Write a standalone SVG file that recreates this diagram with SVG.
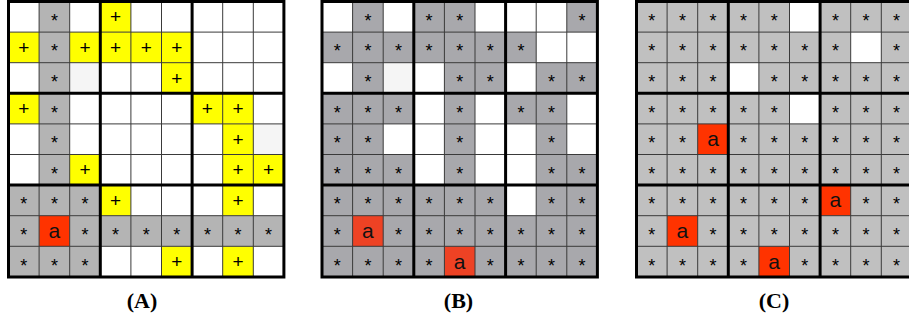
<svg xmlns="http://www.w3.org/2000/svg" width="909" height="320" viewBox="0 0 909 320">
<style>
.s{font-family:"Liberation Sans",Arial,sans-serif;font-size:18px;text-anchor:middle;fill:#000}
.p{font-family:"Liberation Sans",Arial,sans-serif;font-size:19px;text-anchor:middle;fill:#000}
.a{font-family:"Liberation Sans",Arial,sans-serif;font-size:21px;text-anchor:middle;fill:#111}
.lab{font-family:"Liberation Serif","Times New Roman",serif;font-size:22px;font-weight:bold;text-anchor:middle;fill:#000}
.thin{fill:none;stroke:#3a3a3a;stroke-width:1}
.thick{fill:none;stroke:#000;stroke-width:3}
.y{fill:#ffff00}
.r{fill:#ff3300}
.rb{fill:#ee4224}
.w{fill:#fff}
.ow{fill:#f5f5f5}
</style>
<defs>
<path id="thinlines" class="thin" d="M30.6 0V275.4M61.2 0V275.4M122.4 0V275.4M153 0V275.4M214.2 0V275.4M244.8 0V275.4M0 30.6H275.4M0 61.2H275.4M0 122.4H275.4M0 153H275.4M0 214.2H275.4M0 244.8H275.4"/>
<path id="thicklines" class="thick" d="M0 0H275.4V275.4H0ZM91.8 0V275.4M183.6 0V275.4M0 91.8H275.4M0 183.6H275.4"/>
</defs>

<g id="gridA" transform="translate(8.5,1.5)">
<rect x="0" y="0" width="275.4" height="275.4" fill="#fff"/>
<g fill="#b4b4b4">
<rect x="30.6" y="0" width="30.6" height="183.6"/>
<rect x="0" y="183.6" width="91.8" height="30.6"/>
<rect x="0" y="214.2" width="275.4" height="30.6"/>
<rect x="0" y="244.8" width="91.8" height="30.6"/>
</g>
<rect class="ow" x="61.2" y="61.2" width="30.6" height="30.6"/>
<rect class="ow" x="244.8" y="122.4" width="30.6" height="30.6"/>
<g class="y">
<rect x="91.8" y="0" width="30.6" height="30.6"/>
<rect x="0" y="30.6" width="30.6" height="30.6"/>
<rect x="61.2" y="30.6" width="91.8" height="30.6"/>
<rect x="153" y="30.6" width="30.6" height="61.2"/>
<rect x="0" y="91.8" width="30.6" height="30.6"/>
<rect x="183.6" y="91.8" width="61.2" height="30.6"/>
<rect x="214.2" y="122.4" width="30.6" height="30.6"/>
<rect x="61.2" y="153" width="30.6" height="30.6"/>
<rect x="214.2" y="153" width="61.2" height="30.6"/>
<rect x="91.8" y="183.6" width="30.6" height="30.6"/>
<rect x="214.2" y="183.6" width="30.6" height="30.6"/>
<rect x="153" y="244.8" width="30.6" height="30.6"/>
<rect x="214.2" y="244.8" width="30.6" height="30.6"/>
</g>
<rect class="r" x="30.6" y="214.2" width="30.6" height="30.6"/>
<use href="#thinlines"/>
<use href="#thicklines"/>
<text class="s" x="45.9" y="25.3">*</text>
<text class="s" x="45.9" y="55.9">*</text>
<text class="s" x="45.9" y="86.5">*</text>
<text class="s" x="45.9" y="117.1">*</text>
<text class="s" x="45.9" y="147.7">*</text>
<text class="s" x="45.9" y="178.3">*</text>
<text class="s" x="15.3" y="208.9">*</text>
<text class="s" x="45.9" y="208.9">*</text>
<text class="s" x="76.5" y="208.9">*</text>
<text class="s" x="15.3" y="239.5">*</text>
<text class="s" x="76.5" y="239.5">*</text>
<text class="s" x="107.1" y="239.5">*</text>
<text class="s" x="137.7" y="239.5">*</text>
<text class="s" x="168.3" y="239.5">*</text>
<text class="s" x="198.9" y="239.5">*</text>
<text class="s" x="229.5" y="239.5">*</text>
<text class="s" x="260.1" y="239.5">*</text>
<text class="s" x="15.3" y="270.1">*</text>
<text class="s" x="45.9" y="270.1">*</text>
<text class="s" x="76.5" y="270.1">*</text>
<text class="p" x="107.1" y="21.9">+</text>
<text class="p" x="15.3" y="52.5">+</text>
<text class="p" x="76.5" y="52.5">+</text>
<text class="p" x="107.1" y="52.5">+</text>
<text class="p" x="137.7" y="52.5">+</text>
<text class="p" x="168.3" y="52.5">+</text>
<text class="p" x="168.3" y="83.1">+</text>
<text class="p" x="15.3" y="113.7">+</text>
<text class="p" x="198.9" y="113.7">+</text>
<text class="p" x="229.5" y="113.7">+</text>
<text class="p" x="229.5" y="144.3">+</text>
<text class="p" x="76.5" y="174.9">+</text>
<text class="p" x="229.5" y="174.9">+</text>
<text class="p" x="260.1" y="174.9">+</text>
<text class="p" x="107.1" y="205.5">+</text>
<text class="p" x="229.5" y="205.5">+</text>
<text class="p" x="168.3" y="266.7">+</text>
<text class="p" x="229.5" y="266.7">+</text>
<text class="a" x="45.9" y="236.5">a</text>
</g>

<g id="gridB" transform="translate(322,1.5)">
<rect x="0" y="0" width="275.4" height="275.4" fill="#a8a8ac"/>
<g class="w">
<rect x="0" y="0" width="30.6" height="30.6"/>
<rect x="61.2" y="0" width="30.6" height="30.6"/>
<rect x="153" y="0" width="91.8" height="30.6"/>
<rect x="214.2" y="30.6" width="61.2" height="30.6"/>
<rect x="0" y="61.2" width="30.6" height="30.6"/>
<rect x="91.8" y="61.2" width="30.6" height="30.6"/>
<rect x="183.6" y="61.2" width="30.6" height="30.6"/>
<rect x="91.8" y="91.8" width="30.6" height="91.8"/>
<rect x="153" y="91.8" width="30.6" height="91.8"/>
<rect x="244.8" y="91.8" width="30.6" height="61.2"/>
<rect x="61.2" y="122.4" width="30.6" height="30.6"/>
<rect x="183.6" y="122.4" width="30.6" height="61.2"/>
<rect x="183.6" y="183.6" width="30.6" height="30.6"/>
</g>
<rect class="ow" x="61.2" y="61.2" width="30.6" height="30.6"/>
<rect class="rb" x="30.6" y="214.2" width="30.6" height="30.6"/>
<rect class="rb" x="122.4" y="244.8" width="30.6" height="30.6"/>
<use href="#thinlines"/>
<use href="#thicklines"/>
<text class="s" x="45.9" y="25.3">*</text>
<text class="s" x="107.1" y="25.3">*</text>
<text class="s" x="137.7" y="25.3">*</text>
<text class="s" x="260.1" y="25.3">*</text>
<text class="s" x="15.3" y="55.9">*</text>
<text class="s" x="45.9" y="55.9">*</text>
<text class="s" x="76.5" y="55.9">*</text>
<text class="s" x="107.1" y="55.9">*</text>
<text class="s" x="137.7" y="55.9">*</text>
<text class="s" x="168.3" y="55.9">*</text>
<text class="s" x="198.9" y="55.9">*</text>
<text class="s" x="45.9" y="86.5">*</text>
<text class="s" x="137.7" y="86.5">*</text>
<text class="s" x="168.3" y="86.5">*</text>
<text class="s" x="229.5" y="86.5">*</text>
<text class="s" x="260.1" y="86.5">*</text>
<text class="s" x="15.3" y="117.1">*</text>
<text class="s" x="45.9" y="117.1">*</text>
<text class="s" x="76.5" y="117.1">*</text>
<text class="s" x="137.7" y="117.1">*</text>
<text class="s" x="198.9" y="117.1">*</text>
<text class="s" x="229.5" y="117.1">*</text>
<text class="s" x="15.3" y="147.7">*</text>
<text class="s" x="45.9" y="147.7">*</text>
<text class="s" x="137.7" y="147.7">*</text>
<text class="s" x="229.5" y="147.7">*</text>
<text class="s" x="15.3" y="178.3">*</text>
<text class="s" x="45.9" y="178.3">*</text>
<text class="s" x="76.5" y="178.3">*</text>
<text class="s" x="137.7" y="178.3">*</text>
<text class="s" x="229.5" y="178.3">*</text>
<text class="s" x="260.1" y="178.3">*</text>
<text class="s" x="15.3" y="208.9">*</text>
<text class="s" x="45.9" y="208.9">*</text>
<text class="s" x="76.5" y="208.9">*</text>
<text class="s" x="107.1" y="208.9">*</text>
<text class="s" x="137.7" y="208.9">*</text>
<text class="s" x="168.3" y="208.9">*</text>
<text class="s" x="229.5" y="208.9">*</text>
<text class="s" x="260.1" y="208.9">*</text>
<text class="s" x="15.3" y="239.5">*</text>
<text class="s" x="76.5" y="239.5">*</text>
<text class="s" x="107.1" y="239.5">*</text>
<text class="s" x="137.7" y="239.5">*</text>
<text class="s" x="168.3" y="239.5">*</text>
<text class="s" x="198.9" y="239.5">*</text>
<text class="s" x="229.5" y="239.5">*</text>
<text class="s" x="260.1" y="239.5">*</text>
<text class="s" x="15.3" y="270.1">*</text>
<text class="s" x="45.9" y="270.1">*</text>
<text class="s" x="76.5" y="270.1">*</text>
<text class="s" x="107.1" y="270.1">*</text>
<text class="s" x="168.3" y="270.1">*</text>
<text class="s" x="198.9" y="270.1">*</text>
<text class="s" x="229.5" y="270.1">*</text>
<text class="s" x="260.1" y="270.1">*</text>
<text class="a" x="45.9" y="236.5">a</text>
<text class="a" x="137.7" y="267.1">a</text>
</g>

<g id="gridC" transform="translate(636.5,1.5)">
<rect x="0" y="0" width="275.4" height="275.4" fill="#c0c0c0"/>
<g class="w">
<rect x="153" y="0" width="30.6" height="30.6"/>
<rect x="214.2" y="30.6" width="30.6" height="30.6"/>
<rect x="91.8" y="61.2" width="30.6" height="30.6"/>
<rect x="153" y="91.8" width="30.6" height="30.6"/>
</g>
<g class="r">
<rect x="61.2" y="122.4" width="30.6" height="30.6"/>
<rect x="183.6" y="183.6" width="30.6" height="30.6"/>
<rect x="30.6" y="214.2" width="30.6" height="30.6"/>
<rect x="122.4" y="244.8" width="30.6" height="30.6"/>
</g>
<use href="#thinlines"/>
<use href="#thicklines"/>
<text class="s" x="15.3" y="25.3">*</text>
<text class="s" x="45.9" y="25.3">*</text>
<text class="s" x="76.5" y="25.3">*</text>
<text class="s" x="107.1" y="25.3">*</text>
<text class="s" x="137.7" y="25.3">*</text>
<text class="s" x="198.9" y="25.3">*</text>
<text class="s" x="229.5" y="25.3">*</text>
<text class="s" x="260.1" y="25.3">*</text>
<text class="s" x="15.3" y="55.9">*</text>
<text class="s" x="45.9" y="55.9">*</text>
<text class="s" x="76.5" y="55.9">*</text>
<text class="s" x="107.1" y="55.9">*</text>
<text class="s" x="137.7" y="55.9">*</text>
<text class="s" x="168.3" y="55.9">*</text>
<text class="s" x="198.9" y="55.9">*</text>
<text class="s" x="260.1" y="55.9">*</text>
<text class="s" x="15.3" y="86.5">*</text>
<text class="s" x="45.9" y="86.5">*</text>
<text class="s" x="76.5" y="86.5">*</text>
<text class="s" x="137.7" y="86.5">*</text>
<text class="s" x="168.3" y="86.5">*</text>
<text class="s" x="198.9" y="86.5">*</text>
<text class="s" x="229.5" y="86.5">*</text>
<text class="s" x="260.1" y="86.5">*</text>
<text class="s" x="15.3" y="117.1">*</text>
<text class="s" x="45.9" y="117.1">*</text>
<text class="s" x="76.5" y="117.1">*</text>
<text class="s" x="107.1" y="117.1">*</text>
<text class="s" x="137.7" y="117.1">*</text>
<text class="s" x="198.9" y="117.1">*</text>
<text class="s" x="229.5" y="117.1">*</text>
<text class="s" x="260.1" y="117.1">*</text>
<text class="s" x="15.3" y="147.7">*</text>
<text class="s" x="45.9" y="147.7">*</text>
<text class="s" x="107.1" y="147.7">*</text>
<text class="s" x="137.7" y="147.7">*</text>
<text class="s" x="168.3" y="147.7">*</text>
<text class="s" x="198.9" y="147.7">*</text>
<text class="s" x="229.5" y="147.7">*</text>
<text class="s" x="260.1" y="147.7">*</text>
<text class="s" x="15.3" y="178.3">*</text>
<text class="s" x="45.9" y="178.3">*</text>
<text class="s" x="76.5" y="178.3">*</text>
<text class="s" x="107.1" y="178.3">*</text>
<text class="s" x="137.7" y="178.3">*</text>
<text class="s" x="168.3" y="178.3">*</text>
<text class="s" x="198.9" y="178.3">*</text>
<text class="s" x="229.5" y="178.3">*</text>
<text class="s" x="260.1" y="178.3">*</text>
<text class="s" x="15.3" y="208.9">*</text>
<text class="s" x="45.9" y="208.9">*</text>
<text class="s" x="76.5" y="208.9">*</text>
<text class="s" x="107.1" y="208.9">*</text>
<text class="s" x="137.7" y="208.9">*</text>
<text class="s" x="168.3" y="208.9">*</text>
<text class="s" x="229.5" y="208.9">*</text>
<text class="s" x="260.1" y="208.9">*</text>
<text class="s" x="15.3" y="239.5">*</text>
<text class="s" x="76.5" y="239.5">*</text>
<text class="s" x="107.1" y="239.5">*</text>
<text class="s" x="137.7" y="239.5">*</text>
<text class="s" x="168.3" y="239.5">*</text>
<text class="s" x="198.9" y="239.5">*</text>
<text class="s" x="229.5" y="239.5">*</text>
<text class="s" x="260.1" y="239.5">*</text>
<text class="s" x="15.3" y="270.1">*</text>
<text class="s" x="45.9" y="270.1">*</text>
<text class="s" x="76.5" y="270.1">*</text>
<text class="s" x="107.1" y="270.1">*</text>
<text class="s" x="168.3" y="270.1">*</text>
<text class="s" x="198.9" y="270.1">*</text>
<text class="s" x="229.5" y="270.1">*</text>
<text class="s" x="260.1" y="270.1">*</text>
<text class="a" x="76.5" y="144.7">a</text>
<text class="a" x="198.9" y="205.9">a</text>
<text class="a" x="45.9" y="236.5">a</text>
<text class="a" x="137.7" y="267.1">a</text>
</g>

<g id="labels">
<text class="lab" x="142" y="308">(A)</text>
<text class="lab" x="458.5" y="308">(B)</text>
<text class="lab" x="774" y="308">(C)</text>
</g>
</svg>
